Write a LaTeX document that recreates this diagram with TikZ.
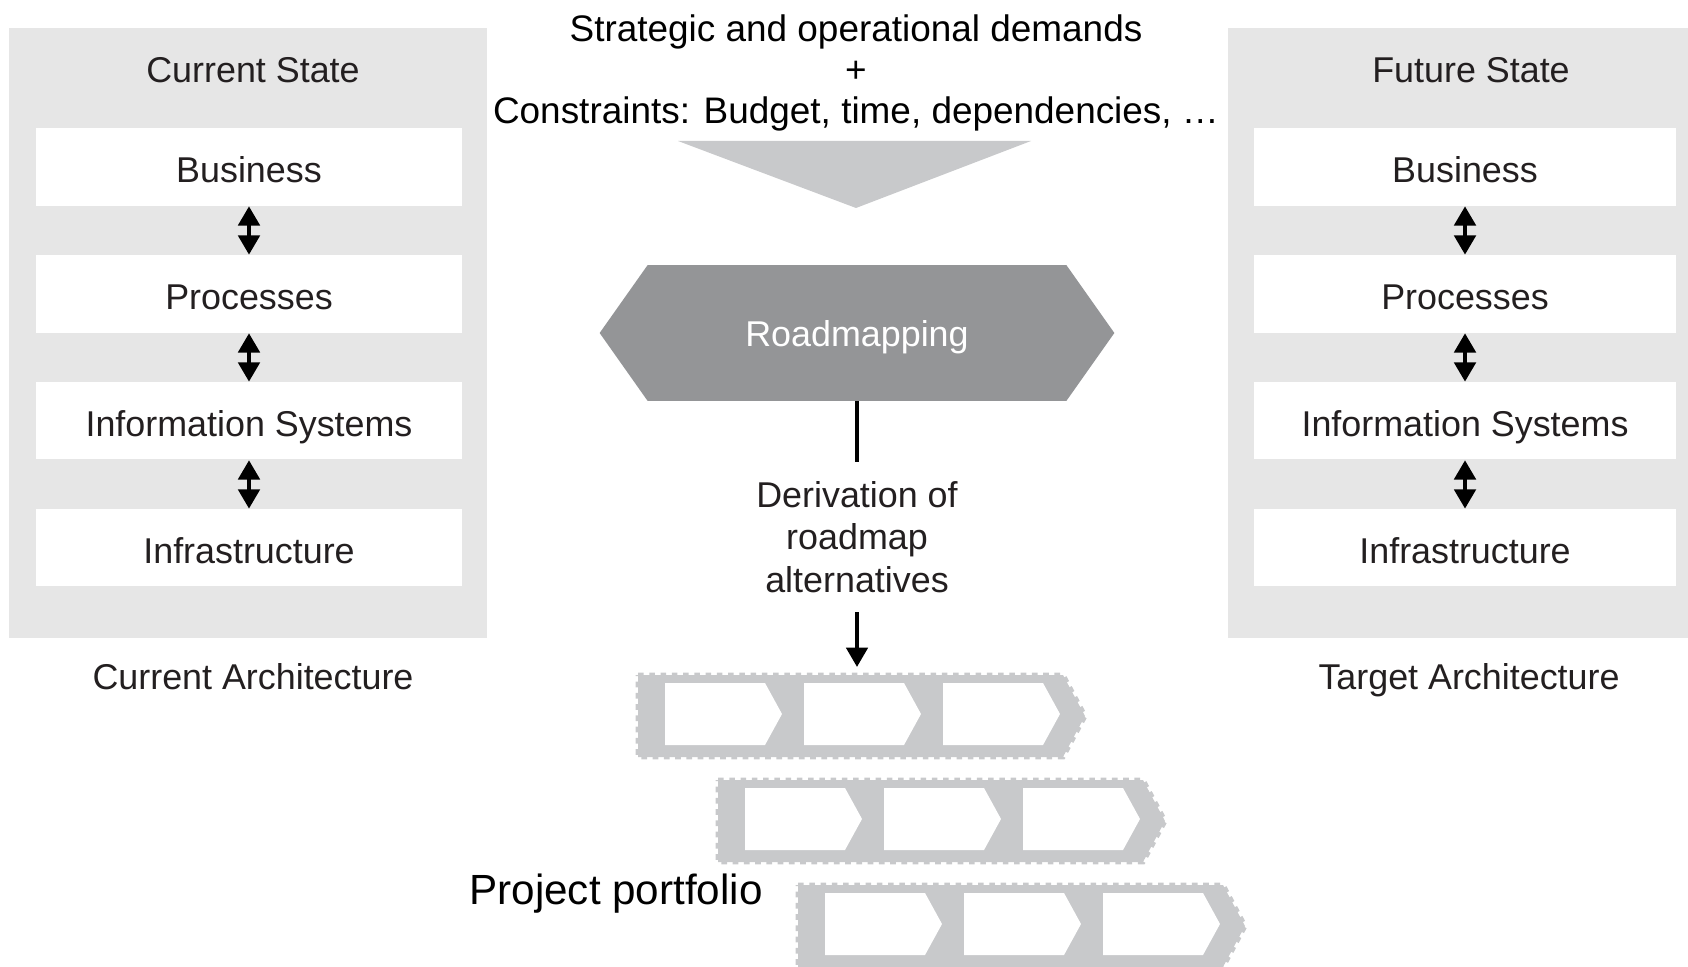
\documentclass[tikz,border=0pt]{standalone}
\usepackage{fontspec}
\setmainfont{Liberation Sans}
\usetikzlibrary{arrows.meta,positioning,backgrounds}

\definecolor{panelgray}{RGB}{230,230,230}
\definecolor{hexgray}{RGB}{148,149,151}
\definecolor{bandgray}{RGB}{200,201,203}
\definecolor{txtgray}{RGB}{35,31,32}

\begin{document}
\begin{tikzpicture}[
            x = 0.01cm, y = -0.01cm, % pixel grid, y runs downwards
            > = {Triangle[width=6pt,length=5.5pt]}, % arrow head style
            node distance = 0.485cm, % gap between layer boxes
            every node/.style = {font=\fontsize{10.2}{12}\selectfont, text=txtgray},
            panel/.style = {fill=panelgray, minimum width=4.77cm, minimum height=6.1cm, inner sep=0pt},
            layer/.style = {fill=white, minimum width=4.26cm, minimum height=0.77cm, inner sep=0pt,
                text height=9pt, text depth=0pt},
            dbl/.style = {<->, line width=1.3pt},
            flow/.style = {line width=1.2pt},
            band/.style = {fill=bandgray, draw=bandgray, line width=1.4pt, dash pattern=on 1.6pt off 1.6pt}
        ]

	\useasboundingbox (0,0) rectangle (1688,967);

	% current state
	\node[panel] (curr) at (248,333) {};
	\node (currtitle) at (253,70) {Current State};
	\node[layer] (lbiz) at (249,167) {Business};
	\node[layer, below=of lbiz] (lproc) {Processes};
	\node[layer, below=of lproc] (lis) {Information Systems};
	\node[layer, below=of lis] (linf) {Infrastructure};
	\node (currarch) at (253,677) {Current Architecture};

	\draw[dbl] (lbiz) -- (lproc);
	\draw[dbl] (lproc) -- (lis);
	\draw[dbl] (lis) -- (linf);

	% future state
	\node[panel, minimum width=4.6cm] (fut) at (1458,333) {};
	\node (futtitle) at (1471,70) {Future State};
	\node[layer, minimum width=4.22cm] (rbiz) at (1465,167) {Business};
	\node[layer, minimum width=4.22cm, below=of rbiz] (rproc) {Processes};
	\node[layer, minimum width=4.22cm, below=of rproc] (ris) {Information Systems};
	\node[layer, minimum width=4.22cm, below=of ris] (rinf) {Infrastructure};
	\node (tararch) at (1469,680) {Target Architecture};

	\draw[dbl] (rbiz) -- (rproc);
	\draw[dbl] (rproc) -- (ris);
	\draw[dbl] (ris) -- (rinf);

	% demands and funnel
	\node[align=center, text=black, font=\fontsize{10.5}{11.6}\selectfont] (dem) at (856,73)
		{Strategic and operational demands\\+\\Constraints: Budget, time, dependencies, …};
	\fill[bandgray] (678,141) -- (1031,141) -- (856,208) -- cycle;

	% roadmapping
	\node[text=white, minimum width=4.17cm, minimum height=1.345cm, inner sep=0pt,
		text height=10pt, text depth=2.1pt] (road) at (857,333) {Roadmapping};
	\begin{scope}[on background layer]
		\fill[hexgray] (road.north west) -- (road.north east) -- ([xshift=0.48cm]road.east)
			-- (road.south east) -- (road.south west) -- ([xshift=-0.48cm]road.west) -- cycle;
	\end{scope}

	\node[align=center, inner xsep=2pt, inner ysep=5.5pt] (deriv) at (857,537)
		{Derivation of\\roadmap\\alternatives};
	\coordinate (pftip) at (857,667);

	\draw[flow] (road) -- (deriv);
	\draw[flow,->] (deriv) -- (pftip);

	% project portfolio
	\foreach \bx/\by in {638/675, 718/780, 798/885} {
		\draw[band] (\bx,\by) -- ({\bx+425},\by) -- ({\bx+447},{\by+41})
			-- ({\bx+425},{\by+82}) -- (\bx,{\by+82}) -- cycle;
		\foreach \i in {0,1,2} {
			\fill[white] ({\bx+27+139*\i},{\by+8}) -- ({\bx+127+139*\i},{\by+8})
				-- ({\bx+144+139*\i},{\by+39}) -- ({\bx+127+139*\i},{\by+70})
				-- ({\bx+27+139*\i},{\by+70}) -- cycle;
		}
	}
	\node[text=black, font=\fontsize{12}{14}\selectfont] (port) at (616,894) {Project portfolio};
\end{tikzpicture}
\end{document}
